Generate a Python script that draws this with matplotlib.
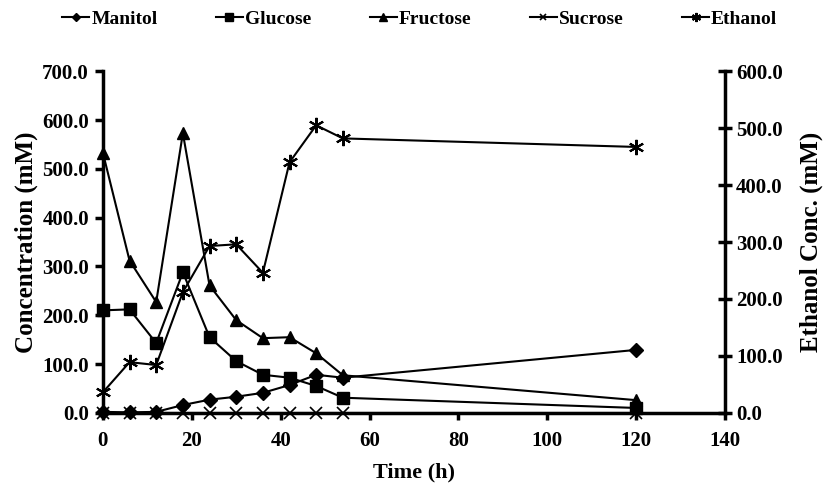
import numpy as np
import matplotlib
matplotlib.use('Agg')
import matplotlib.pyplot as plt

# sampling times (h)
time_h = [0, 6, 12, 18, 24, 30, 36, 42, 48, 54, 120]

# sugar concentrations (mM), left axis
manitol = [2, 1, 2, 16, 27, 33, 41, 57, 78, 72, 129]
glucose = [210, 212, 143, 288, 155, 106, 78, 72, 55, 31, 10]
fructose = [533, 312, 227, 573, 261, 190, 153, 155, 122, 77, 26]
sucrose = [0, 0, 0, 0, 0, 0, 0, 0, 0, 0, 0]

# ethanol concentration (mM), right axis
ethanol = [36, 89, 84, 212, 293, 296, 246, 440, 505, 482, 467]

plt.rcParams['font.family'] = ['Liberation Serif', 'DejaVu Serif']
plt.rcParams['font.weight'] = 'bold'

fig = plt.figure(figsize=(8.23, 4.98), dpi=100)
ax = fig.add_axes([0.125, 0.171, 0.756, 0.686])
ax2 = ax.twinx()

line_kw = dict(color='black', linewidth=1.5)
h1, = ax.plot(time_h, manitol, marker='D', markersize=7, label='Manitol', **line_kw)
h2, = ax.plot(time_h, glucose, marker='s', markersize=9, label='Glucose', **line_kw)
h3, = ax.plot(time_h, fructose, marker='^', markersize=9, label='Fructose', **line_kw)
h4, = ax.plot(time_h, sucrose, marker='x', markersize=8, markeredgewidth=1.2,
              label='Sucrose', **line_kw)
h5, = ax2.plot(time_h, ethanol, marker=(6, 2, 0), markersize=11, markeredgewidth=1.5,
               label='Ethanol', **line_kw)

ax.set_xlim(0, 140)
ax.set_ylim(0, 700)
ax2.set_ylim(0, 600)
ax.set_xticks(np.arange(0, 141, 20))
ax.set_yticks(np.arange(0, 701, 100))
ax2.set_yticks(np.arange(0, 601, 100))
ax.yaxis.set_major_formatter(matplotlib.ticker.FormatStrFormatter('%.1f'))
ax2.yaxis.set_major_formatter(matplotlib.ticker.FormatStrFormatter('%.1f'))

for a in (ax, ax2):
    a.spines['top'].set_visible(False)
    for s in ('left', 'right', 'bottom'):
        a.spines[s].set_linewidth(2.5)
ax.spines['right'].set_visible(False)
ax2.spines['left'].set_visible(False)
ax2.spines['bottom'].set_visible(False)

for ln in (h1, h2, h3, h4, h5):
    ln.set_clip_on(False)

ax.tick_params(axis='x', direction='out', length=5, width=2.5, labelsize=15, pad=8)
ax.tick_params(axis='y', direction='out', length=6, width=2.5, labelsize=15, pad=4)
ax2.tick_params(axis='y', direction='inout', length=10, width=2.5, labelsize=15, pad=3)

ax.set_xlabel('Time (h)', fontsize=16, fontweight='bold', labelpad=8)
ax.set_ylabel('Concentration (mM)', fontsize=18, fontweight='bold', labelpad=3)
ax2.set_ylabel('Ethanol Conc. (mM)', fontsize=18, fontweight='bold', labelpad=12)

fig.legend(handles=[h1, h2, h3, h4, h5], loc='upper center', bbox_to_anchor=(0.51, 1.015),
           ncol=5, frameon=False, fontsize=14, handlelength=1.4, handletextpad=0.1,
           columnspacing=3.0, markerscale=0.6)

fig.savefig('out.png', dpi=100)
